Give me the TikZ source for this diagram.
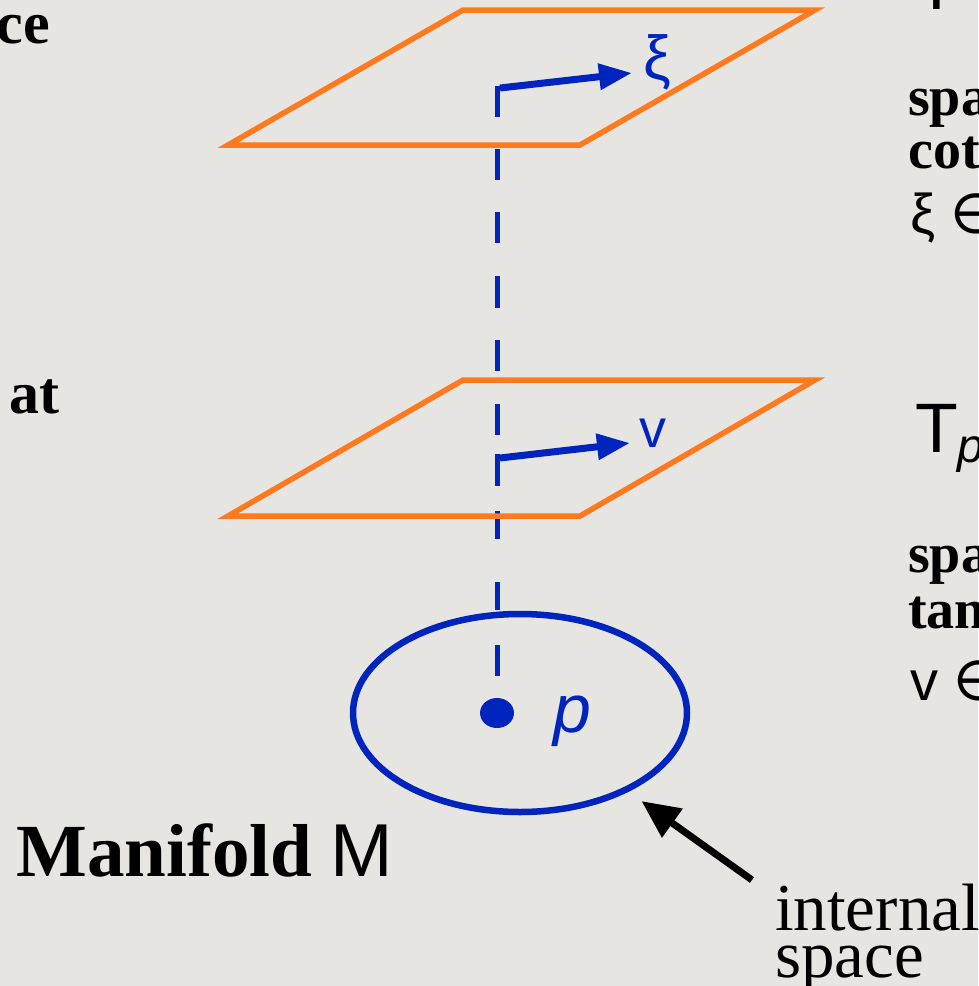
\documentclass[tikz,border=0pt]{standalone}
\usepackage{fontspec}
\setmainfont{Liberation Serif}
\setsansfont{Liberation Sans}
\newfontfamily\symfont{DejaVu Sans}
\usepackage{xcolor}
\usepackage{tikz}
\usetikzlibrary{arrows.meta}
\usetikzlibrary{positioning}
\usetikzlibrary{shapes.geometric}

\definecolor{paper}{RGB}{231,229,225}
\definecolor{planeorange}{RGB}{255,121,30}
\definecolor{vecblue}{RGB}{0,36,190}

\tikzset{
  plane/.style={draw=planeorange, line width=5.5pt, line join=miter},
  vec/.style={draw=vecblue, line width=7pt, -{Triangle[length=33pt,width=25pt]}},
  title/.style={font=\fontsize{60}{60}\selectfont\bfseries, inner sep=0pt},
  note/.style={font=\fontsize{56}{56}\selectfont\bfseries, inner sep=0pt},
  bluelabel/.style={text=vecblue, font=\fontsize{54}{54}\selectfont\sffamily, inner sep=0pt}
}

\begin{document}
\begin{tikzpicture}[x=1pt,y=-1pt]
        \useasboundingbox (0,0) rectangle (978,986);
        \fill[paper] (0,0) rectangle (978,986);
        \clip (0,0) rectangle (978,986);

        \foreach \a/\b in {86/117,149/180,212/243,276/308,340/371,404/435,454/486,511/539,582/610,645/676}
            \draw[vecblue, line width=5pt] (497,\a) -- (497,\b);

        \draw[plane] (463,10) -- (815,10) -- (580,145) -- (228,145) -- cycle;
        \draw[plane] (463,380) -- (815,380) -- (580,516) -- (228,516) -- cycle;

        \node[draw=vecblue, line width=6.5pt, ellipse, minimum width=334pt, minimum height=198pt] (manifold) at (520,713) {};
        \fill[vecblue] (497,713) ellipse (17pt and 15pt);
        \node[bluelabel, font=\fontsize{68}{68}\selectfont\sffamily\itshape, anchor=base west] (plabel) at (553,732) {p};

        \coordinate (xistart) at (500,88);
        \node[bluelabel, font=\fontsize{62}{62}\selectfont\sffamily] (xilabel) at (657,62) {ξ};
        \draw[vec] (xistart) -- (632,73);

        \coordinate (vstart) at (500,458);
        \node[bluelabel, anchor=base] (vlabel) at (653,447) {v};
        \draw[vec] (vstart) -- (630,443);

        \node[title, anchor=base east] (toplabel) at (50,43) {ce};
        \node[title, anchor=base east] (midlabel) at (60,413) {at};
        \node[inner sep=0pt, anchor=base west] (manilabel) at (16,876)
            {\fontsize{75}{75}\selectfont\bfseries Manifold \mdseries\sffamily M};

        \node[inner sep=0pt, anchor=base west, align=left, font=\fontsize{67}{42}\selectfont] (internal) at (775,977) {internal\\[5pt]space};
        \coordinate (arrtail) at (752,880);
        \draw[line width=7pt, -{Triangle[length=38pt,width=34pt]}, shorten >=16pt] (arrtail) -- (manifold.-36);

        \node[inner sep=0pt, anchor=base west, font=\fontsize{70}{70}\selectfont\sffamily] (cotT) at (915,9) {T};
        \node[note, anchor=base west] (cot1) at (908,115) {spa};
        \node[note, anchor=base west] (cot2) at (908,168) {cot};
        \node[inner sep=0pt, anchor=base west, font=\fontsize{56}{56}\selectfont\sffamily] (cot3) at (910,233) {ξ {\symfont ∈}};

        \node[inner sep=0pt, anchor=base west, font=\fontsize{70}{70}\selectfont\sffamily] (tanT) at (915,452)
            {T\raisebox{-10pt}{\fontsize{48}{48}\selectfont\itshape p}};
        \node[note, anchor=base west] (tan1) at (908,572) {spa};
        \node[note, anchor=base west] (tan2) at (908,628) {tan};
        \node[inner sep=0pt, anchor=base west, font=\fontsize{56}{56}\selectfont\sffamily] (tan3) at (910,700) {v {\symfont ∈}};
    \end{tikzpicture}
\end{document}
